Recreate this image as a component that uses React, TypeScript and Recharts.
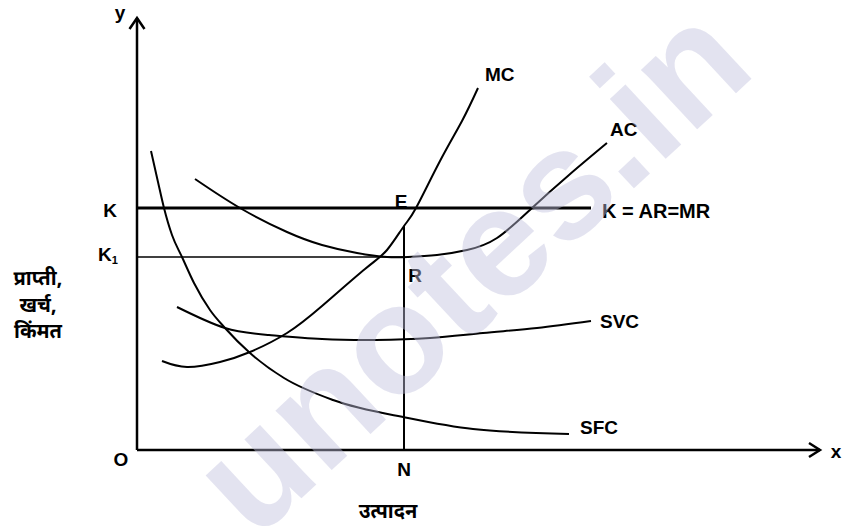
import { LineChart, Line, XAxis, YAxis, ReferenceLine, ReferenceDot } from "recharts";

// curve points, x = output, y = revenue / cost / price (arbitrary units)
const mcX = [25, 50, 83, 113, 150, 185, 228, 250, 267, 279, 303, 325, 341];
const mcY = [89, 83, 88, 98, 117, 144, 181, 200, 224, 242, 289, 329, 362];

const acX = [58, 103, 150, 185, 220, 250, 271, 300, 330, 360, 395, 432, 470];
const acY = [271, 242, 218, 205, 197, 193, 193, 195, 200, 212, 242, 275, 307];

const svcX = [40, 88, 132, 185, 239, 293, 346, 400, 454];
const svcY = [143, 122, 115, 111, 110, 112, 117, 122, 129];

const sfcX = [14, 21, 27, 35, 45, 57, 73, 88, 113, 147, 196, 271, 336, 432];
const sfcY = [299, 268, 242, 215, 193, 167, 140, 122, 97, 72, 50, 32, 21, 16];

const priceK = 242;
const priceK1 = 193;
const outputN = 267;
const kLineEnd = 454;

const toRows = (xs: number[], ys: number[]) => xs.map((x, i) => ({ x, y: ys[i] }));

const W = 842;
const H = 527;
const X_MAX = 683;
const Y_MAX = 432;

const bold = { fontFamily: "'Liberation Sans', Arial, sans-serif", fontWeight: 700, fontSize: 19, fill: "#000" };
const hindi = {
  fontFamily: "'Noto Sans Devanagari', 'Lohit Devanagari', 'Noto Sans', sans-serif",
  fontWeight: 700,
  fontSize: 20,
  fill: "#000",
};

// text placed at a data point
const txt = (s: string, style: object, anchor: "start" | "middle" | "end" = "start") => (p: any) => (
  <text x={p.cx} y={p.cy} textAnchor={anchor} dominantBaseline="central" style={style as any}>
    {s}
  </text>
);

export default function App() {
  return (
    <div style={{ position: "absolute", left: 0, top: 0, width: W, height: H, background: "#fff" }}>
      <LineChart
        width={W}
        height={H}
        margin={{ top: 18, right: W - 137 - X_MAX, bottom: H - 18 - Y_MAX, left: 137 }}
        style={{ position: "absolute", left: 0, top: 0 }}
      >
        <XAxis type="number" dataKey="x" domain={[0, X_MAX]} hide allowDataOverflow />
        <YAxis type="number" dataKey="y" domain={[0, Y_MAX]} hide allowDataOverflow />

        {/* axes */}
        <ReferenceLine segment={[{ x: 0, y: 0 }, { x: X_MAX, y: 0 }]} stroke="#000" strokeWidth={2.5} ifOverflow="visible" />
        <ReferenceLine segment={[{ x: 0, y: 0 }, { x: 0, y: Y_MAX }]} stroke="#000" strokeWidth={2.5} ifOverflow="visible" />
        <ReferenceDot
          x={X_MAX}
          y={0}
          ifOverflow="visible"
          shape={(p: any) => (
            <polyline
              points={`${p.cx - 11},${p.cy - 7} ${p.cx},${p.cy} ${p.cx - 11},${p.cy + 7}`}
              fill="none"
              stroke="#000"
              strokeWidth={2.5}
            />
          )}
        />
        <ReferenceDot
          x={0}
          y={Y_MAX}
          ifOverflow="visible"
          shape={(p: any) => (
            <polyline
              points={`${p.cx - 7.5},${p.cy + 11} ${p.cx},${p.cy} ${p.cx + 7.5},${p.cy + 11}`}
              fill="none"
              stroke="#000"
              strokeWidth={2.5}
            />
          )}
        />

        {/* price lines and output */}
        <ReferenceLine segment={[{ x: 0, y: priceK }, { x: kLineEnd, y: priceK }]} stroke="#000" strokeWidth={3} ifOverflow="visible" />
        <ReferenceLine segment={[{ x: 0, y: priceK1 }, { x: outputN + 1, y: priceK1 }]} stroke="#000" strokeWidth={1.5} ifOverflow="visible" />
        <ReferenceLine segment={[{ x: outputN, y: 0 }, { x: outputN, y: 224 }]} stroke="#000" strokeWidth={2} ifOverflow="visible" />

        <Line data={toRows(mcX, mcY)} dataKey="y" type="natural" stroke="#000" strokeWidth={2} dot={false} isAnimationActive={false} />
        <Line data={toRows(acX, acY)} dataKey="y" type="natural" stroke="#000" strokeWidth={2} dot={false} isAnimationActive={false} />
        <Line data={toRows(svcX, svcY)} dataKey="y" type="natural" stroke="#000" strokeWidth={2} dot={false} isAnimationActive={false} />
        <Line data={toRows(sfcX, sfcY)} dataKey="y" type="monotone" stroke="#000" strokeWidth={2} dot={false} isAnimationActive={false} />

        {/* labels */}
        <ReferenceDot x={-17} y={438} ifOverflow="visible" shape={txt("y", bold, "middle")} />
        <ReferenceDot x={699} y={-1} ifOverflow="visible" shape={txt("x", bold, "middle")} />
        <ReferenceDot x={-16} y={-9} ifOverflow="visible" shape={txt("O", bold, "middle")} />
        <ReferenceDot x={-27} y={240} ifOverflow="visible" shape={txt("K", bold, "middle")} />
        <ReferenceDot
          x={-24}
          y={196}
          ifOverflow="visible"
          shape={(p: any) => (
            <text x={p.cx - 5} y={p.cy} textAnchor="middle" dominantBaseline="central" style={bold as any}>
              K
              <tspan dy={6} style={{ fontSize: 11 }}>1</tspan>
            </text>
          )}
        />
        <ReferenceDot x={264} y={249} ifOverflow="visible" shape={txt("E", bold, "middle")} />
        <ReferenceDot x={278} y={175} ifOverflow="visible" shape={txt("R", bold, "middle")} />
        <ReferenceDot x={267} y={-19} ifOverflow="visible" shape={txt("N", bold, "middle")} />
        <ReferenceDot x={348} y={376} ifOverflow="visible" shape={txt("MC", bold)} />
        <ReferenceDot x={473} y={321} ifOverflow="visible" shape={txt("AC", bold)} />
        <ReferenceDot x={465} y={239} ifOverflow="visible" shape={txt("K = AR=MR", { ...bold, fontSize: 20 })} />
        <ReferenceDot x={463} y={129} ifOverflow="visible" shape={txt("SVC", bold)} />
        <ReferenceDot x={443} y={23} ifOverflow="visible" shape={txt("SFC", bold)} />
        <ReferenceDot x={-99} y={170} ifOverflow="visible" shape={txt("प्राप्ती,", hindi, "middle")} />
        <ReferenceDot x={-99} y={143} ifOverflow="visible" shape={txt("खर्च,", hindi, "middle")} />
        <ReferenceDot x={-99} y={117} ifOverflow="visible" shape={txt("किंमत", hindi, "middle")} />
        <ReferenceDot x={251} y={-63} ifOverflow="visible" shape={txt("उत्पादन", hindi, "middle")} />
      </LineChart>
      {/* translucent watermark over the drawing */}
      <svg width={W} height={H} style={{ position: "absolute", left: 0, top: 0, pointerEvents: "none" }}>
        <text
          x={470}
          y={268}
          textAnchor="middle"
          dominantBaseline="central"
          transform="rotate(-43 470 268)"
          style={{
            fontFamily: "'Liberation Sans', Arial, sans-serif",
            fontWeight: 700,
            fontSize: 155,
            fill: "rgb(192,192,221)",
            fillOpacity: 0.44,
          }}
        >
          unotes.in
        </text>
      </svg>
    </div>
  );
}
